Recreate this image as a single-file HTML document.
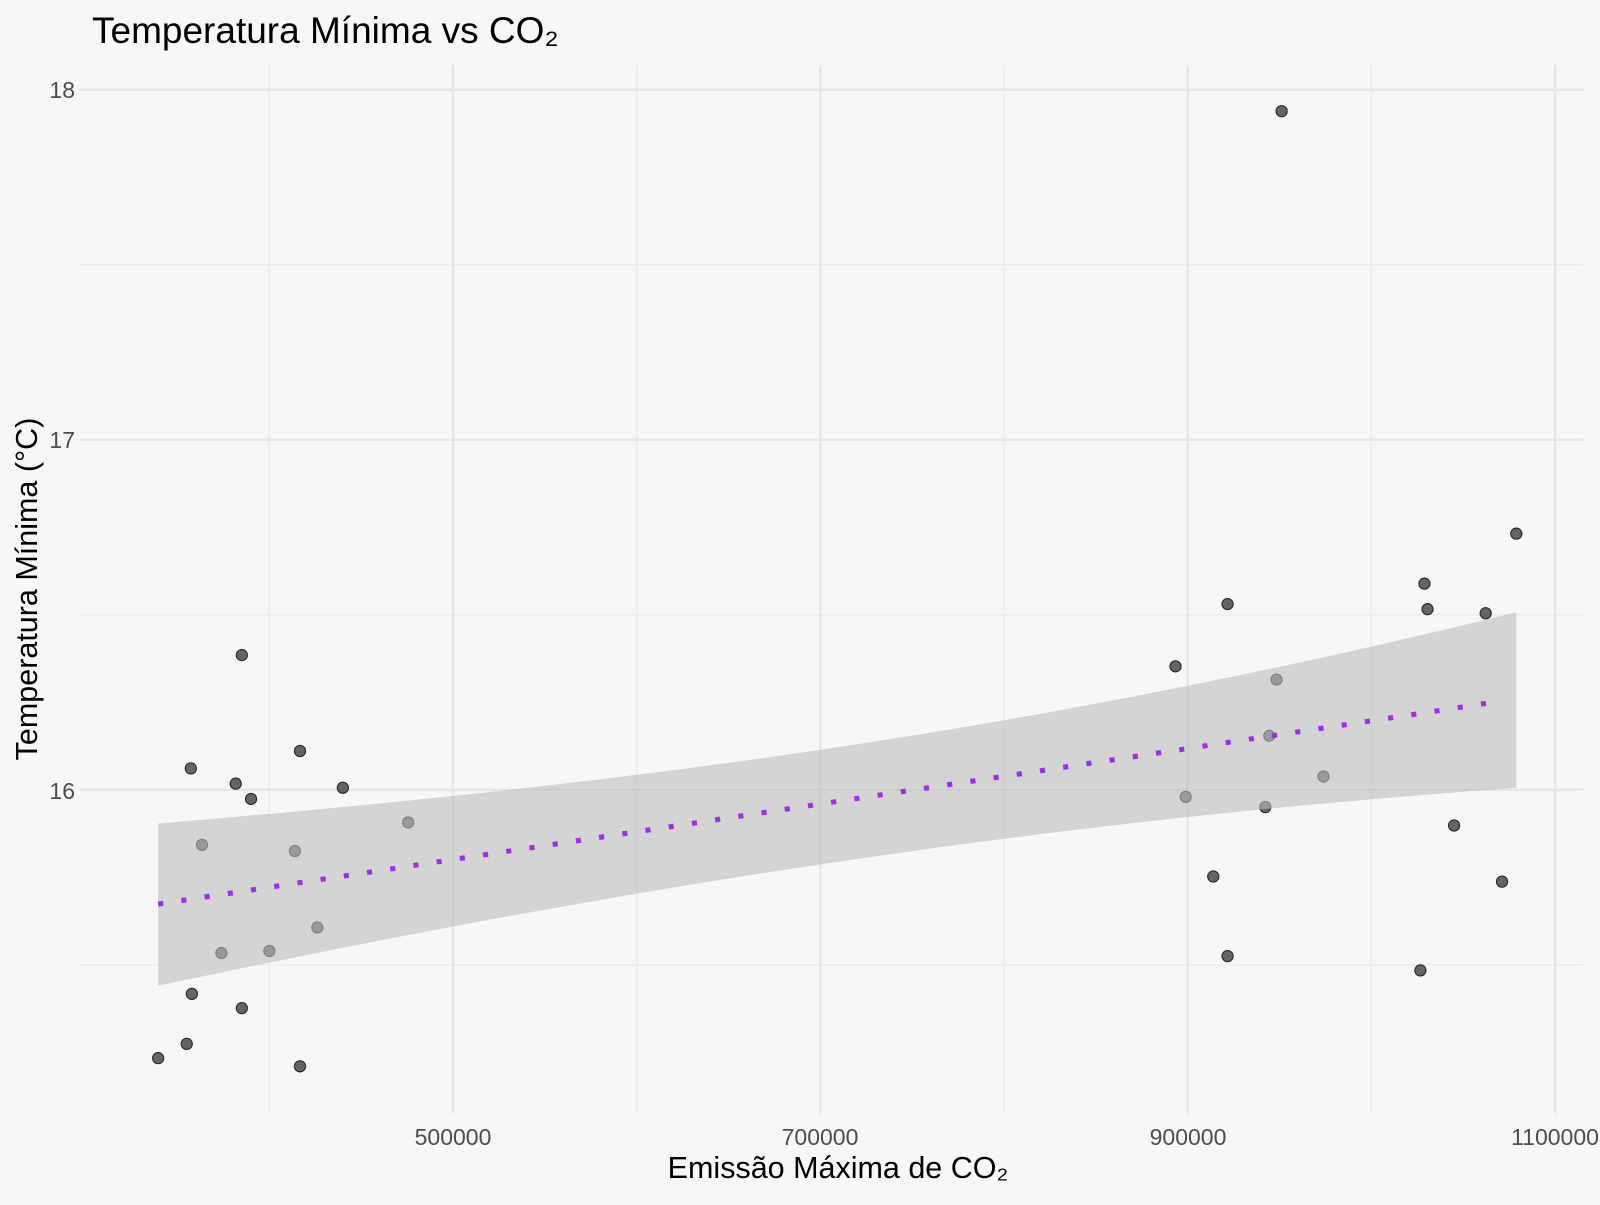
<!DOCTYPE html>
<html><head><meta charset="utf-8"><style>body{margin:0;background:#f7f7f7}</style></head><body>
<svg width="1600" height="1200" xmlns="http://www.w3.org/2000/svg" font-family="Liberation Sans, sans-serif">
<rect width="1600" height="1200" fill="#f7f7f7"/>
<g transform="scale(1.0204)">
<g stroke="#ebebeb" stroke-width="1.2">
<line x1="78" x2="1552" y1="259.5" y2="259.5"/><line x1="78" x2="1552" y1="602.5" y2="602.5"/><line x1="78" x2="1552" y1="945.5" y2="945.5"/>
<line x1="264" x2="264" y1="64" y2="1091"/><line x1="624" x2="624" y1="64" y2="1091"/><line x1="984" x2="984" y1="64" y2="1091"/><line x1="1344" x2="1344" y1="64" y2="1091"/>
</g>
<g stroke="#e6e6e6" stroke-width="2.4">
<line x1="78" x2="1552" y1="88" y2="88"/><line x1="78" x2="1552" y1="431" y2="431"/><line x1="78" x2="1552" y1="774" y2="774"/>
<line x1="444" x2="444" y1="64" y2="1091"/><line x1="804" x2="804" y1="64" y2="1091"/><line x1="1164" x2="1164" y1="64" y2="1091"/><line x1="1524" x2="1524" y1="64" y2="1091"/>
</g>
<g fill="#333" fill-opacity="0.75" stroke="#222" stroke-width="1">
<circle cx="155" cy="1037" r="5.5"/><circle cx="183" cy="1023" r="5.5"/><circle cx="188" cy="974" r="5.5"/><circle cx="187" cy="753" r="5.5"/><circle cx="198" cy="828" r="5.5"/><circle cx="217" cy="934" r="5.5"/><circle cx="231" cy="768" r="5.5"/><circle cx="237" cy="642" r="5.5"/><circle cx="237" cy="988" r="5.5"/><circle cx="246" cy="783" r="5.5"/><circle cx="264" cy="932" r="5.5"/><circle cx="289" cy="834" r="5.5"/><circle cx="294" cy="736" r="5.5"/><circle cx="294" cy="1045" r="5.5"/><circle cx="311" cy="909" r="5.5"/><circle cx="336" cy="772" r="5.5"/><circle cx="400" cy="806" r="5.5"/><circle cx="1152" cy="653" r="5.5"/><circle cx="1162" cy="781" r="5.5"/><circle cx="1189" cy="859" r="5.5"/><circle cx="1203" cy="592" r="5.5"/><circle cx="1203" cy="937" r="5.5"/><circle cx="1240" cy="791" r="5.5"/><circle cx="1244" cy="721" r="5.5"/><circle cx="1251" cy="666" r="5.5"/><circle cx="1256" cy="109" r="5.5"/><circle cx="1297" cy="761" r="5.5"/><circle cx="1392" cy="951" r="5.5"/><circle cx="1396" cy="572" r="5.5"/><circle cx="1399" cy="597" r="5.5"/><circle cx="1425" cy="809" r="5.5"/><circle cx="1456" cy="601" r="5.5"/><circle cx="1472" cy="864" r="5.5"/><circle cx="1486" cy="523" r="5.5"/>
</g>
<path d="M155,807 C600,770 1000,720 1486,600 L1486,772 C1100,800 700,850 155,966 Z" fill="#bdbdbd" fill-opacity="0.6"/>
<line x1="155" y1="886" x2="1472" y2="687" stroke="#9b30e6" stroke-width="5" stroke-dasharray="5 18"/>
</g>
<g font-size="23" fill="#4d4d4d" text-anchor="end">
<text x="75" y="98">18</text><text x="75" y="448">17</text><text x="75" y="799">16</text>
</g>
<g font-size="23" fill="#4d4d4d" text-anchor="middle">
<text x="453" y="1145">500000</text><text x="820" y="1145">700000</text><text x="1188" y="1145">900000</text><text x="1555" y="1145">1100000</text>
</g>
<text x="838" y="1178" font-size="30.5" text-anchor="middle" fill="#000">Emissão Máxima de CO₂</text>
<text transform="translate(37,589) rotate(-90)" font-size="30.5" text-anchor="middle" fill="#000">Temperatura Mínima (°C)</text>
<text x="92" y="43" font-size="37" fill="#000">Temperatura Mínima vs CO₂</text>
</svg>
</body></html>
